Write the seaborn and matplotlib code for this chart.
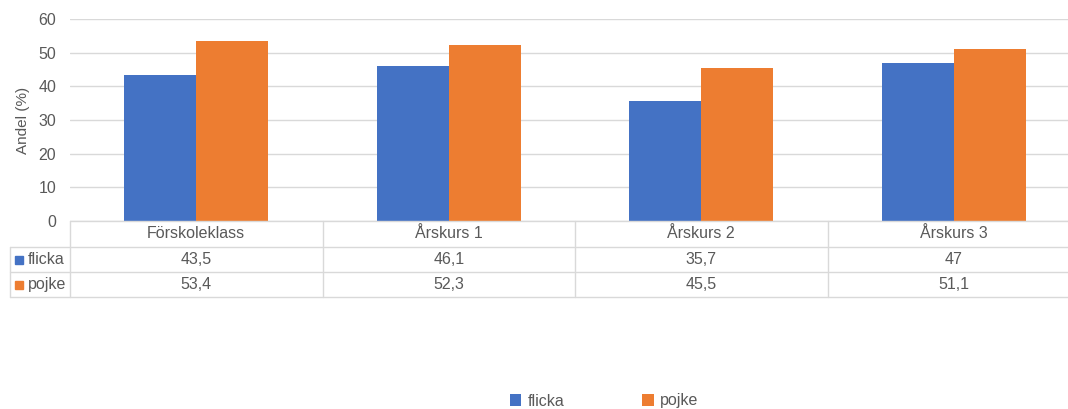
import pandas as pd
import matplotlib.pyplot as plt
from matplotlib.lines import Line2D
from matplotlib.patches import Rectangle
import seaborn as sns

# Data
categories = ['Förskoleklass', 'Årskurs 1', 'Årskurs 2', 'Årskurs 3']
series_names = ['flicka', 'pojke']
flicka = [43.5, 46.1, 35.7, 47.0]
pojke = [53.4, 52.3, 45.5, 51.1]
colors = ['#4472C4', '#ED7D31']

df = pd.DataFrame({
    'Kategori': categories * 2,
    'Kön': [series_names[0]] * 4 + [series_names[1]] * 4,
    'Andel': flicka + pojke,
})

W, H = 1068, 409
TEXT = '#595959'
GRID = '#D9D9D9'

sns.set_style('white')
plt.rcParams['font.family'] = ['Liberation Sans', 'DejaVu Sans']

fig = plt.figure(figsize=(W / 100, H / 100), dpi=100)

# plot area in pixels: x 70..1080, y 19..221
def fx(px):
    return px / W

def fy(py):
    return 1 - py / H

ax = fig.add_axes([fx(70), fy(221), fx(1080) - fx(70), fy(19) - fy(221)])

sns.barplot(data=df, x='Kategori', y='Andel', hue='Kön', palette=colors,
            width=0.57, gap=0, saturation=1, linewidth=0, ax=ax, legend=True)

ax.set_ylim(0, 60)
ax.set_xlim(-0.5, len(categories) - 0.5)
ax.set_yticks(range(0, 61, 10))
ax.yaxis.grid(True, color=GRID, linewidth=1)
ax.set_axisbelow(True)
for s in ax.spines.values():
    s.set_visible(False)
ax.tick_params(axis='y', length=0, labelsize=11.5, labelcolor=TEXT, pad=10)
ax.set_xticks([])
ax.set_xlabel('')
ax.set_ylabel('Andel (%)', fontsize=11, color=TEXT, labelpad=6)

handles, labels = ax.get_legend_handles_labels()
ax.get_legend().remove()

# data table below the plot
col_edges = [70 + i * (1080 - 70) / len(categories) for i in range(len(categories) + 1)]
rows_y = [221, 247, 272, 297]

def hline(x0, x1, y):
    fig.add_artist(Line2D([fx(x0), fx(x1)], [fy(y), fy(y)], color=GRID, lw=1))

def vline(x, y0, y1):
    fig.add_artist(Line2D([fx(x), fx(x)], [fy(y0), fy(y1)], color=GRID, lw=1))

hline(70, 1080, rows_y[0])
for y in rows_y[1:]:
    hline(10, 1080, y)
vline(10, rows_y[1], rows_y[3])
for x in col_edges:
    vline(x, rows_y[0], rows_y[3])

def fmt(v):
    return f'{v:g}'.replace('.', ',')

for i, cat in enumerate(categories):
    cx = (col_edges[i] + col_edges[i + 1]) / 2
    fig.text(fx(cx), fy((rows_y[0] + rows_y[1]) / 2), cat, ha='center', va='center',
             fontsize=11.5, color=TEXT)
    for r, vals in enumerate([flicka, pojke]):
        yc = (rows_y[r + 1] + rows_y[r + 2]) / 2
        fig.text(fx(cx), fy(yc), fmt(vals[i]), ha='center', va='center',
                 fontsize=11.5, color=TEXT)

for r, name in enumerate(series_names):
    yc = (rows_y[r + 1] + rows_y[r + 2]) / 2
    fig.add_artist(Rectangle((fx(15), fy(yc + 4)), fx(8), 8 / H, color=colors[r],
                             transform=fig.transFigure))
    fig.text(fx(28), fy(yc), name, ha='left', va='center', fontsize=11.5, color=TEXT)

fig.legend(handles, labels, loc='center', bbox_to_anchor=(fx(604), fy(401)), ncol=2,
           frameon=False, handlelength=0.7, handleheight=0.7, handletextpad=0.4,
           columnspacing=4.9, fontsize=11.5, labelcolor=TEXT)

fig.savefig('out.png', dpi=100)
